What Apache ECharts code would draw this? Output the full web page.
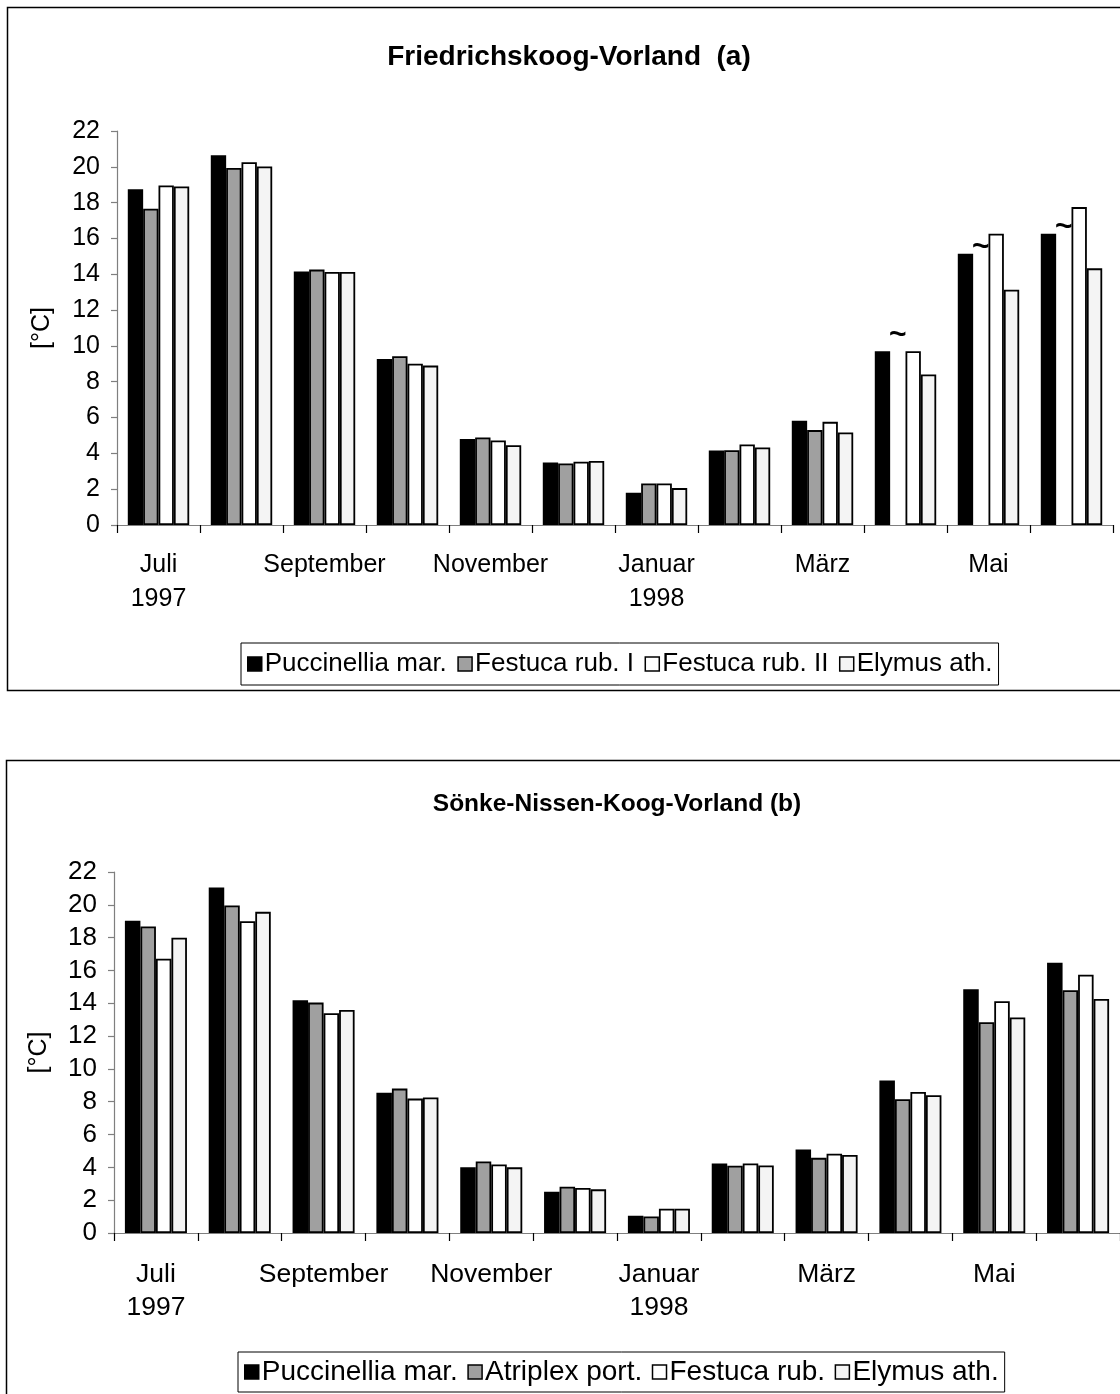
<!DOCTYPE html>
<html><head><meta charset="utf-8">
<script src="https://cdn.jsdelivr.net/npm/echarts@6/dist/echarts.min.js"></script>
<style>html,body{margin:0;padding:0;background:#fff}#c{width:1120px;height:1394px}</style>
</head><body><div id="c"></div>
<script>
// ---- data ----
const months = ['Juli','August','September','Oktober','November','Dezember','Januar','Februar','März','April','Mai','Juni'];
const tickLabels = ['Juli\n1997','','September','','November','','Januar\n1998','','März','','Mai',''];
const yMin = 0, yMax = 22, yStep = 2;

// (a) Friedrichskoog-Vorland
const aPuccinellia = [18.75,20.65,14.16,9.27,4.80,3.49,1.80,4.16,5.82,9.70,15.15,16.26];
const aFestucaI    = [17.66,19.93,14.26,9.42,4.89,3.44,2.32,4.18,5.30,null,null,null];
const aFestucaII   = [18.96,20.26,14.13,9.00,4.72,3.53,2.32,4.50,5.76,9.70,16.26,17.75];
const aElymus      = [18.90,20.02,14.13,8.90,4.46,3.57,2.06,4.33,5.17,8.40,13.14,14.33];
const aGapMark     = [null,null,null,null,null,null,null,null,null,10.7,15.6,16.7];

// (b) Sönke-Nissen-Koog-Vorland
const bPuccinellia = [19.03,21.05,14.18,8.54,4.00,2.52,1.05,4.24,5.09,9.29,14.85,16.47];
const bAtriplex    = [18.68,19.96,14.04,8.80,4.36,2.82,1.01,4.10,4.58,8.15,12.84,14.79];
const bFestuca     = [16.71,19.00,13.39,8.19,4.18,2.74,1.48,4.24,4.83,8.60,14.12,15.74];
const bElymus      = [17.99,19.57,13.59,8.26,4.00,2.66,1.48,4.12,4.75,8.40,13.14,14.26];

// ---- styles ----
const FONT = "'Liberation Sans', Arial, sans-serif";
const fills = ['#000000', '#a0a0a0', '#ffffff', '#f4f4f4'];

function withGapMarks(vals, marks) {
  return vals.map((v, i) => {
    if (v == null && marks[i] != null) {
      return { value: marks[i], itemStyle: { color: 'transparent', borderWidth: 0 },
        label: { show: true, formatter: '~', position: 'top', distance: -17,
                 fontSize: 30, fontWeight: 'bold', color: '#000', fontFamily: FONT } };
    }
    return v;
  });
}

function barSeries(name, data, idx, fillIdx) {
  return {
    type: 'bar', name: name, data: data, xAxisIndex: idx, yAxisIndex: idx,
    barGap: '0%', barCategoryGap: '26%',
    itemStyle: { color: fills[fillIdx], borderColor: '#000', borderWidth: 1.8 },
    emphasis: { disabled: true }, animation: false
  };
}

function xAxis(idx) {
  return {
    type: 'category', gridIndex: idx, data: months,
    axisLine: { lineStyle: { color: '#7f7f7f', width: 1.2 } },
    axisTick: { show: true, interval: 0, length: 8, lineStyle: { color: '#000', width: 1.2 } },
    axisLabel: { interval: 0, margin: idx === 0 ? 23 : 25, fontSize: idx === 0 ? 25 : 26.5,
      lineHeight: idx === 0 ? 34 : 33, color: '#000',
      fontFamily: FONT, formatter: (v, i) => tickLabels[i] }
  };
}
function yAxis(idx) {
  return {
    type: 'value', gridIndex: idx, min: yMin, max: yMax, interval: yStep,
    name: '[°C]', nameLocation: 'middle', nameGap: 62, nameRotate: 90,
    nameTextStyle: { fontSize: 25, color: '#000', fontFamily: FONT },
    splitLine: { show: false },
    axisLine: { show: true, lineStyle: { color: '#7f7f7f', width: 1.2 } },
    axisTick: { show: true, length: 6, lineStyle: { color: '#7f7f7f', width: 1.2 } },
    axisLabel: { margin: 17, fontSize: idx === 0 ? 25 : 26, color: '#000', fontFamily: FONT }
  };
}

function legend(left, top, names, fontSize, gap, pad) {
  return {
    left: left, top: top, data: names,
    orient: 'horizontal', itemWidth: 14, itemHeight: 14, itemGap: gap,
    borderColor: '#000', borderWidth: 1, padding: [pad, 6, pad, 6], icon: 'rect',
    itemStyle: { borderColor: '#000', borderWidth: 1.5 },
    formatter: n => n.trim(),
    textStyle: { fontSize: fontSize, color: '#000', fontFamily: FONT, padding: [0, 0, 0, -2] },
    selectedMode: false
  };
}

const chart = echarts.init(document.getElementById('c'), null, { renderer: 'canvas' });
chart.setOption({
  backgroundColor: '#fff',
  animation: false,
  title: [
    { text: 'Friedrichskoog-Vorland  (a)', left: 564, top: 38, textAlign: 'center',
      textStyle: { fontSize: 28, fontWeight: 'bold', color: '#000', fontFamily: FONT } },
    { text: 'Sönke-Nissen-Koog-Vorland (b)', left: 612, top: 787, textAlign: 'center',
      textStyle: { fontSize: 24.5, fontWeight: 'bold', color: '#000', fontFamily: FONT } }
  ],
  graphic: [
    { type: 'rect', shape: { x: 7.5, y: 7.5, width: 1200, height: 683 },
      style: { fill: 'none', stroke: '#000', lineWidth: 1.5 }, z: -1, silent: true },
    { type: 'rect', shape: { x: 6.5, y: 760.5, width: 1200, height: 700 },
      style: { fill: 'none', stroke: '#000', lineWidth: 1.5 }, z: -1, silent: true }
  ],
  legend: [
    legend(241, 643, ['Puccinellia mar.', 'Festuca rub. I', 'Festuca rub. II', 'Elymus ath.'], 26, 10.5, 8),
    legend(238, 1352, ['Puccinellia mar. ', 'Atriplex port.', 'Festuca rub.', 'Elymus ath. '], 28, 9.5, 6)
  ],
  grid: [
    { left: 117, top: 131, width: 996, height: 394, containLabel: false },
    { left: 114, top: 872, width: 1012, height: 361, containLabel: false }
  ],
  xAxis: [xAxis(0), xAxis(1)],
  yAxis: [yAxis(0), yAxis(1)],
  series: [
    barSeries('Puccinellia mar.', aPuccinellia, 0, 0),
    barSeries('Festuca rub. I', withGapMarks(aFestucaI, aGapMark), 0, 1),
    barSeries('Festuca rub. II', aFestucaII, 0, 2),
    barSeries('Elymus ath.', aElymus, 0, 3),
    barSeries('Puccinellia mar. ', bPuccinellia, 1, 0),
    barSeries('Atriplex port.', bAtriplex, 1, 1),
    barSeries('Festuca rub.', bFestuca, 1, 2),
    barSeries('Elymus ath. ', bElymus, 1, 3)
  ]
});
</script>
</body></html>
